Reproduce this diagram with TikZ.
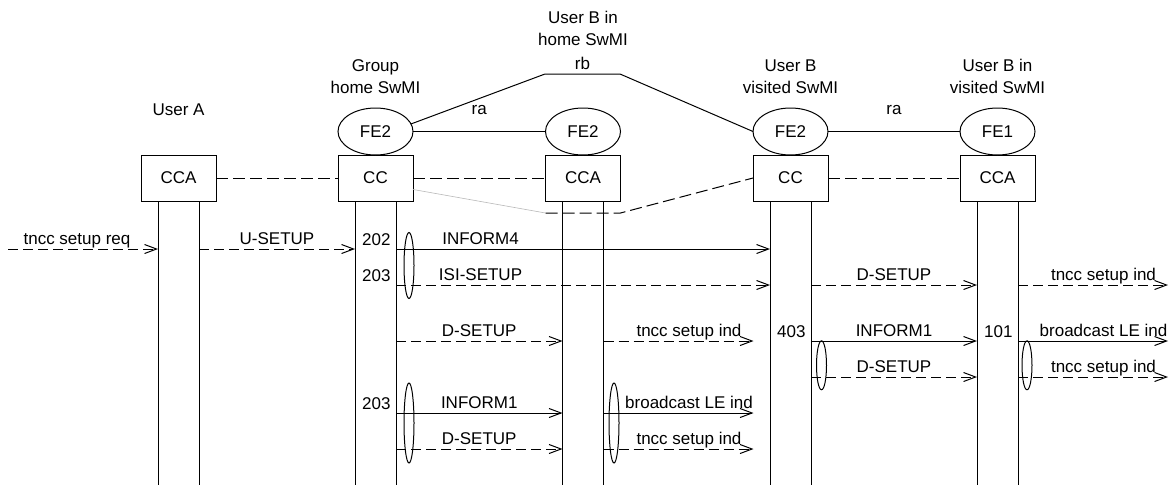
\documentclass[tikz,border=0pt]{standalone}
\usepackage{fontspec}
\setmainfont{Liberation Sans}
\usetikzlibrary{positioning, arrows.meta, shapes.geometric}

\begin{document}
\begin{tikzpicture}[
    x=1pt, y=-1pt,
    line width=1pt,
    % --- Styles ---
    box/.style={
        rectangle,
        draw=black,
        fill=white,
        minimum width=75pt,
        minimum height=46pt,
        inner sep=0pt,
        outer sep=0pt,
        font=\fontsize{17}{22.5}\selectfont
    },
    fe/.style={
        ellipse,
        draw=black,
        fill=white,
        minimum width=75pt,
        minimum height=47pt,
        inner sep=0pt,
        outer sep=0pt,
        font=\fontsize{17}{22.5}\selectfont
    },
    head/.style={
        align=center,
        inner sep=0pt,
        text depth=0pt,
        font=\fontsize{17}{22.5}\selectfont
    },
    lbl/.style={
        above=4pt,
        inner sep=0pt,
        text depth=0pt,
        font=\fontsize{17}{22.5}\selectfont
    },
    num/.style={
        anchor=base east,
        inner sep=0pt,
        font=\fontsize{17}{22.5}\selectfont
    },
    grp/.style={
        ellipse,
        draw=black,
        minimum width=10pt,
        inner sep=0pt,
        outer sep=0pt
    },
    msg/.style={
        -{Straight Barb[length=12pt, width=9pt]}
    },
    msgd/.style={
        msg,
        dash pattern=on 10pt off 5pt
    },
    link/.style={
        dash pattern=on 12pt off 5pt
    }
]
\useasboundingbox[fill=white] (0,0) rectangle (1170,485);

% --- Nodes (relative positioning) ---
\node[box] at (178.5,178) (ccaA) {CCA};
\node[box, right=122pt of ccaA] (ccG) {CC};
\node[box, right=132.5pt of ccG] (ccaB) {CCA};
\node[box, right=132.5pt of ccaB] (ccV) {CC};
\node[box, right=132pt of ccV] (ccaV) {CCA};

\node[fe, above=0pt of ccG] (feG) {FE2};
\node[fe, above=0pt of ccaB] (feB) {FE2};
\node[fe, above=0pt of ccV] (feV) {FE2};
\node[fe, above=0pt of ccaV] (feW) {FE1};

\node[head, above=39pt of ccaA] (hA) {User A};
\node[head, above=14pt of feG] (hG) {Group\\home SwMI};
\node[head, above=62pt of feB] (hB) {User B in\\home SwMI};
\node[head, above=14pt of feV] (hV) {User B\\visited SwMI};
\node[head, above=14pt of feW] (hW) {User B in\\visited SwMI};

% --- Links between entities ---
\coordinate (rbL) at (545,74);
\coordinate (rbR) at (620,74);
\draw (feG.12) -- (rbL) -- node[lbl] {rb} (rbR) -- (feV.west);
\draw (feG.east) -- node[head, above=17pt] {ra} (feB.west);
\draw (feV.east) -- node[head, above=17pt] {ra} (feW.west);

\draw[link] (ccaA) -- (ccG);
\draw[link] (ccG) -- (ccaB);
\draw[link] (ccV) -- (ccaV);

\coordinate (jL) at ([yshift=-12pt]ccaB.south west);
\coordinate (jR) at ([yshift=-12pt]ccaB.south east);
\draw[gray!55, line width=0.6pt] (ccG.-17) -- (jL);
\draw[link] (jL) -- (jR) -- (ccV.west);

% --- Lifelines ---
\coordinate (bot) at (0,485);
\coordinate (aL) at ([xshift=17pt]ccaA.south west);
\coordinate (aR) at ([xshift=-17pt]ccaA.south east);
\coordinate (gL) at ([xshift=17pt]ccG.south west);
\coordinate (gR) at ([xshift=-17pt]ccG.south east);
\coordinate (bL) at ([xshift=17pt]ccaB.south west);
\coordinate (bR) at ([xshift=-17pt]ccaB.south east);
\coordinate (vL) at ([xshift=17pt]ccV.south west);
\coordinate (vR) at ([xshift=-17pt]ccV.south east);
\coordinate (wL) at ([xshift=17pt]ccaV.south west);
\coordinate (wR) at ([xshift=-17pt]ccaV.south east);

\draw (aL) -- (aL |- bot);
\draw (aR) -- (aR |- bot);
\draw (gL) -- (gL |- bot);
\draw (gR) -- (gR |- bot);
\draw (bL) -- (bL |- bot);
\draw (bR) -- (bR |- bot);
\draw (vL) -- (vL |- bot);
\draw (vR) -- (vR |- bot);
\draw (wL) -- (wL |- bot);
\draw (wR) -- (wR |- bot);

% --- Rows and free ends ---
\coordinate (r1) at (0,249);
\coordinate (r2) at (0,285);
\coordinate (r3) at (0,341);
\coordinate (r4) at (0,377);
\coordinate (r5) at (0,413);
\coordinate (r6) at (0,449);
\coordinate (aIn) at ([xshift=-150pt]aL);
\coordinate (bOut) at ([xshift=150pt]bR);
\coordinate (wOut) at ([xshift=150pt]wR);

% --- Arrows ---
\draw[msgd] (aIn |- r1) -- node[lbl, pos=0.46] {tncc setup req} (aL |- r1);
\draw[msgd] (aR |- r1) -- node[lbl] {U-SETUP} (gL |- r1);
\draw[msg] (gR |- r1) -- node[lbl, pos=0.226] {INFORM4} (vL |- r1);
\draw[msgd] (gR |- r2) -- node[lbl, pos=0.226] {ISI-SETUP} (vL |- r2);
\draw[msgd] (vR |- r2) -- node[lbl] {D-SETUP} (wL |- r2);
\draw[msgd] (wR |- r2) -- node[lbl, pos=0.57] {tncc setup ind} (wOut |- r2);
\draw[msgd] (gR |- r3) -- node[lbl] {D-SETUP} (bL |- r3);
\draw[msgd] (bR |- r3) -- node[lbl, pos=0.57] {tncc setup ind} (bOut |- r3);
\draw[msg] (vR |- r3) -- node[lbl] {INFORM1} (wL |- r3);
\draw[msg] (wR |- r3) -- node[lbl, pos=0.57] {broadcast LE ind} (wOut |- r3);
\draw[msgd] (vR |- r4) -- node[lbl] {D-SETUP} (wL |- r4);
\draw[msgd] (wR |- r4) -- node[lbl, pos=0.57] {tncc setup ind} (wOut |- r4);
\draw[msg] (gR |- r5) -- node[lbl] {INFORM1} (bL |- r5);
\draw[msg] (bR |- r5) -- node[lbl, pos=0.57] {broadcast LE ind} (bOut |- r5);
\draw[msgd] (gR |- r6) -- node[lbl] {D-SETUP} (bL |- r6);
\draw[msgd] (bR |- r6) -- node[lbl, pos=0.57] {tncc setup ind} (bOut |- r6);

% --- State numbers and groupings ---
\node[num] (n202) at ([xshift=-5pt, yshift=4pt]gR |- r1) {202};
\node[num] (n203a) at ([xshift=-5pt, yshift=4pt]gR |- r2) {203};
\node[num] (n203b) at ([xshift=-5pt, yshift=4pt]gR |- r5) {203};
\node[num] (n403) at ([xshift=-5pt, yshift=4pt]vR |- r3) {403};
\node[num] (n101) at ([xshift=-5pt, yshift=4pt]wR |- r3) {101};

\node[grp, minimum height=66pt] (g1) at (409,265.5) {};
\node[grp, minimum height=80pt] (g2) at (409,423) {};
\node[grp, minimum height=80pt] (g3) at (614,423) {};
\node[grp, minimum height=49pt] (g4) at (821.5,365.3) {};
\node[grp, minimum height=49pt] (g5) at (1027,365.3) {};
\end{tikzpicture}
\end{document}
